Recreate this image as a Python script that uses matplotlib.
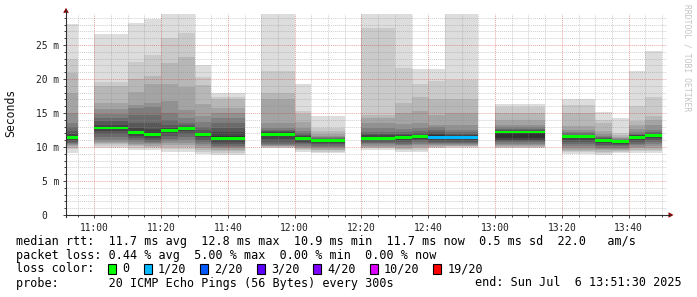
import matplotlib
matplotlib.use("Agg")
import matplotlib.pyplot as plt
from matplotlib.lines import Line2D
from matplotlib.patches import Polygon, Rectangle

# ---------------- data ----------------
step_end = ["10:55", "11:00", "11:05", "11:10", "11:15", "11:20", "11:25", "11:30",
            "11:35", "11:40", "11:45", "11:50", "11:55", "12:00", "12:05", "12:10",
            "12:15", "12:20", "12:25", "12:30", "12:35", "12:40", "12:45", "12:50",
            "12:55", "13:00", "13:05", "13:10", "13:15", "13:20", "13:25", "13:30",
            "13:35", "13:40", "13:45", "13:50"]

# 20 sorted ping RTTs (ms) per 5-minute step, None = no data
pings = [
    [9.1, 9.7, 9.9, 10.1, 10.3, 10.5, 10.6, 10.8, 11.0, 11.2, 11.6, 11.9, 12.3, 12.9, 13.5, 15.0, 18.0, 20.9, 22.9, 28.1],
    None,
    [9.9, 10.2, 10.4, 10.6, 10.8, 11.1, 11.5, 11.9, 12.3, 12.7, 13.0, 13.3, 13.8, 14.3, 14.8, 15.6, 16.5, 19.0, 19.5, 26.6],
    [9.9, 10.2, 10.4, 10.6, 10.8, 11.1, 11.5, 11.9, 12.3, 12.7, 13.0, 13.3, 13.8, 14.3, 14.8, 15.6, 16.5, 19.0, 19.5, 26.6],
    [9.6, 9.9, 10.1, 10.3, 10.5, 10.7, 11.0, 11.3, 11.6, 11.9, 12.3, 12.8, 13.6, 14.7, 15.8, 16.2, 18.1, 20.0, 22.5, 28.2],
    [9.5, 9.8, 10.0, 10.2, 10.4, 10.6, 10.8, 11.0, 11.3, 11.6, 12.0, 12.6, 13.5, 14.7, 15.9, 16.4, 19.3, 20.4, 23.6, 28.8],
    [9.3, 9.7, 10.0, 10.3, 10.6, 10.9, 11.2, 11.6, 12.0, 12.3, 12.5, 12.8, 13.3, 14.0, 15.0, 16.7, 19.3, 22.4, 26.0, 30.5],
    [9.3, 9.7, 10.0, 10.3, 10.6, 11.0, 11.4, 11.9, 12.3, 12.6, 12.8, 12.9, 13.2, 13.6, 14.2, 15.4, 18.8, 23.3, 26.8, 30.5],
    [9.0, 9.3, 9.6, 9.9, 10.1, 10.4, 10.7, 11.0, 11.4, 11.7, 11.9, 12.1, 12.5, 13.0, 13.7, 14.6, 16.3, 19.1, 20.3, 22.1],
    [8.8, 9.1, 9.4, 9.6, 9.8, 10.0, 10.2, 10.4, 10.7, 11.0, 11.6, 12.2, 12.8, 13.5, 14.2, 15.0, 15.8, 17.1, 17.4, 18.0],
    [8.8, 9.1, 9.4, 9.6, 9.8, 10.0, 10.2, 10.4, 10.7, 11.0, 11.6, 12.2, 12.8, 13.5, 14.2, 15.0, 15.8, 17.1, 17.4, 18.0],
    None,
    [9.8, 9.9, 10.0, 10.1, 10.2, 10.3, 10.5, 10.8, 11.2, 11.7, 12.1, 12.2, 12.3, 12.5, 12.8, 13.5, 17.1, 18.0, 21.2, 30.5],
    [9.8, 9.9, 10.0, 10.1, 10.2, 10.3, 10.5, 10.8, 11.2, 11.7, 12.1, 12.2, 12.3, 12.5, 12.8, 13.5, 17.1, 18.0, 21.2, 30.5],
    [9.3, 9.5, 9.7, 9.9, 10.0, 10.2, 10.4, 10.6, 10.8, 11.0, 11.4, 11.6, 11.8, 12.0, 12.3, 12.8, 13.7, 14.8, 15.3, 19.3],
    [9.1, 9.3, 9.5, 9.6, 9.8, 10.0, 10.2, 10.4, 10.6, 10.8, 11.0, 11.1, 11.2, 11.3, 11.4, 11.6, 11.9, 12.3, 12.8, 14.6],
    [9.1, 9.3, 9.5, 9.6, 9.8, 10.0, 10.2, 10.4, 10.6, 10.8, 11.0, 11.1, 11.2, 11.3, 11.4, 11.6, 11.9, 12.3, 12.8, 14.6],
    None,
    [9.6, 9.8, 9.9, 10.0, 10.2, 10.4, 10.6, 10.8, 11.0, 11.2, 11.5, 11.7, 11.9, 12.2, 12.8, 13.6, 14.2, 14.7, 27.5, 30.5],
    [9.6, 9.8, 9.9, 10.0, 10.2, 10.4, 10.6, 10.8, 11.0, 11.2, 11.5, 11.7, 11.9, 12.2, 12.8, 13.6, 14.2, 14.7, 27.5, 30.5],
    [9.3, 9.5, 9.7, 9.9, 10.1, 10.3, 10.5, 10.8, 11.1, 11.4, 11.6, 11.7, 11.9, 12.2, 12.6, 13.4, 15.0, 16.4, 21.6, 30.5],
    [9.3, 9.6, 9.8, 10.0, 10.3, 10.5, 10.7, 11.0, 11.2, 11.4, 11.6, 11.8, 12.0, 12.3, 12.8, 13.6, 15.3, 17.4, 19.3, 21.5],
    [9.8, 9.9, 10.0, 10.1, 10.3, 10.4, 10.6, 10.8, 11.0, 11.2, 11.7, 11.9, 12.2, 12.5, 12.9, 13.3, 14.7, 17.1, 19.7, 21.5],
    [9.9, 10.0, 10.1, 10.2, 10.3, 10.5, 10.6, 10.8, 11.0, 11.2, 11.6, 11.7, 11.9, 12.2, 12.5, 13.3, 15.0, 17.1, 19.9, 30.5],
    [9.9, 10.0, 10.1, 10.2, 10.3, 10.5, 10.6, 10.8, 11.0, 11.2, 11.6, 11.7, 11.9, 12.2, 12.5, 13.3, 15.0, 17.1, 19.9, 30.5],
    None,
    [9.8, 9.9, 10.0, 10.2, 10.3, 10.5, 10.7, 10.9, 11.1, 11.3, 12.3, 12.4, 12.5, 12.7, 12.9, 13.2, 14.0, 15.0, 15.9, 16.3],
    [9.8, 9.9, 10.0, 10.2, 10.3, 10.5, 10.7, 10.9, 11.1, 11.3, 12.3, 12.4, 12.5, 12.7, 12.9, 13.2, 14.0, 15.0, 15.9, 16.3],
    [9.8, 9.9, 10.0, 10.2, 10.3, 10.5, 10.7, 10.9, 11.1, 11.3, 12.3, 12.4, 12.5, 12.7, 12.9, 13.2, 14.0, 15.0, 15.9, 16.3],
    None,
    [8.9, 9.2, 9.4, 9.6, 9.9, 10.2, 10.5, 10.8, 11.1, 11.3, 11.6, 11.7, 11.8, 12.0, 12.2, 12.5, 13.1, 15.0, 16.2, 17.1],
    [8.9, 9.2, 9.4, 9.6, 9.9, 10.2, 10.5, 10.8, 11.1, 11.3, 11.6, 11.7, 11.8, 12.0, 12.2, 12.5, 13.1, 15.0, 16.2, 17.1],
    [8.8, 9.1, 9.3, 9.5, 9.7, 9.9, 10.1, 10.3, 10.6, 10.9, 11.1, 11.2, 11.3, 11.4, 11.6, 11.9, 12.3, 13.5, 14.0, 15.1],
    [9.1, 9.2, 9.4, 9.5, 9.7, 9.9, 10.1, 10.3, 10.5, 10.7, 10.9, 10.95, 11.0, 11.1, 11.2, 11.3, 11.4, 11.7, 12.0, 14.2],
    [9.1, 9.4, 9.6, 9.8, 10.0, 10.3, 10.5, 10.8, 11.0, 11.2, 11.6, 11.7, 11.8, 11.9, 12.2, 12.6, 13.3, 13.8, 16.0, 21.2],
    [9.1, 9.4, 9.6, 9.9, 10.1, 10.4, 10.7, 11.0, 11.3, 11.6, 11.8, 11.9, 12.0, 12.2, 12.5, 13.3, 14.0, 14.5, 17.3, 24.1],
]

# median RTT (ms) per step and lost pings (of 20) per step
median = [11.4, None, 12.8, 12.8, 12.1, 11.8, 12.4, 12.7, 11.8, 11.3, 11.3, None,
          11.9, 11.9, 11.2, 10.9, 10.9, None, 11.3, 11.3, 11.45, 11.5, 11.4, 11.4,
          11.4, None, 12.2, 12.2, 12.2, None, 11.5, 11.5, 11.0, 10.8, 11.4, 11.7]
loss = [0, None, 0, 0, 0, 0, 0, 0, 0, 0, 0, None,
        0, 0, 0, 0, 0, None, 0, 0, 0, 0, 1, 1,
        1, None, 0, 0, 0, None, 0, 0, 0, 0, 0, 0]

loss_labels = ["0", "1/20", "2/20", "3/20", "4/20", "10/20", "19/20"]
loss_colors = ["#00ff00", "#00b8ff", "#0059ff", "#5e00ff", "#7e00ff", "#dd00ff", "#ff0000"]
loss_thresh = [0, 1, 2, 3, 4, 10, 19]

x_ticks = ["11:00", "11:20", "11:40", "12:00", "12:20", "12:40", "13:00", "13:20", "13:40"]
y_ticks = [0, 5, 10, 15, 20, 25]
y_tick_labels = ["0  ", "5 m", "10 m", "15 m", "20 m", "25 m"]

stats_rtt = "median rtt:  11.7 ms avg  12.8 ms max  10.9 ms min  11.7 ms now  0.5 ms sd  22.0   am/s"
stats_loss = "packet loss: 0.44 % avg  5.00 % max  0.00 % min  0.00 % now"
probe_txt = "probe:       20 ICMP Echo Pings (56 Bytes) every 300s"
end_txt = "end: Sun Jul  6 13:51:30 2025"

# ---------------- drawing ----------------
W, H = 697, 297
MONO = "DejaVu Sans Mono"
fig = plt.figure(figsize=(W / 100, H / 100), dpi=100)
fig.patch.set_facecolor("white")

X0, X1, YT, YB = 66, 667, 13.7, 215
ax = fig.add_axes([X0 / W, 1 - YB / H, (X1 - X0) / W, (YB - YT) / H])
ax.set_facecolor("white")


def tmin(s):
    h, m = s.split(":")
    return int(h) * 60 + int(m)


half = 10
for se, p, med, ls in zip(step_end, pings, median, loss):
    if p is None:
        continue
    start = tmin(se) - 5
    for k in range(half):
        ibot = k + 1
        g = int(190 / half * (half - ibot)) + 50
        col = "#%02x%02x%02x" % (g, g, g)
        ax.bar(start, p[19 - k] - p[k], bottom=p[k], width=5, align="edge",
               color=col, linewidth=0, zorder=1)
    ci = max(i for i, t in enumerate(loss_thresh) if ls >= t)
    ax.bar(start, 0.42, bottom=med - 0.21, width=5, align="edge",
           color=loss_colors[ci], linewidth=0, zorder=4)

ax.set_xlim(651.5, 831.5)
ax.set_ylim(0, 29.6)

ax.set_xticks([tmin(t) for t in x_ticks])
ax.set_xticklabels(x_ticks)
ax.set_xticks(list(range(655, 831, 5)), minor=True)
ax.set_yticks(y_ticks)
ax.set_yticklabels(y_tick_labels)
ax.set_yticks(list(range(0, 30)), minor=True)

for lab in ax.get_xticklabels() + ax.get_yticklabels():
    lab.set_family(MONO)
    lab.set_fontsize(6.9)
    lab.set_color("#202020")

ax.tick_params(axis="both", which="both", direction="out", color="#404040", width=0.7)
ax.tick_params(axis="both", which="major", length=2.5)
ax.tick_params(axis="both", which="minor", length=1.5)
ax.tick_params(axis="x", which="major", pad=3)
ax.tick_params(axis="y", which="major", pad=2.5)

ax.set_axisbelow(False)
ax.grid(True, which="minor", color="#8c8c8c", alpha=0.42, linestyle=(0, (1, 1)), linewidth=0.7, zorder=3)
ax.grid(True, which="major", color="#d02a2a", alpha=0.42, linestyle=(0, (1, 1)), linewidth=0.7, zorder=3)

for sp in ax.spines.values():
    sp.set_visible(False)

# axis lines with arrows
axis_col = "#303030"
fig.add_artist(Line2D([X0 / W, 670 / W], [1 - YB / H, 1 - YB / H], color=axis_col, lw=0.8))
fig.add_artist(Line2D([X0 / W, X0 / W], [1 - (YB + 1.5) / H, 1 - 10 / H], color=axis_col, lw=0.8))
arrow_col = "#8b0000"
fig.add_artist(Polygon([(668.5 / W, 1 - 212.2 / H), (673.5 / W, 1 - 215 / H), (668.5 / W, 1 - 217.8 / H)],
                       closed=True, transform=fig.transFigure, color=arrow_col, lw=0))
fig.add_artist(Polygon([(63.2 / W, 1 - 12.8 / H), (66 / W, 1 - 7.8 / H), (68.8 / W, 1 - 12.8 / H)],
                       closed=True, transform=fig.transFigure, color=arrow_col, lw=0))

# y label and watermark
fig.text(11 / W, 1 - 113 / H, "Seconds", rotation=90, ha="center", va="center",
         family=MONO, fontsize=8.3, color="#101010")
fig.text(687 / W, 1 - 4 / H, "RRDTOOL / TOBI OETIKER", rotation=270, ha="center", va="top",
         family=MONO, fontsize=5.8, color="#c4c4c4")

# legend block
FS = 8.45
CW = 0.602 * FS * 100 / 72  # char width in px
LX = 16.5
rows_y = [241, 255, 269, 283]
fig.text(LX / W, 1 - rows_y[0] / H, stats_rtt, family=MONO, fontsize=FS, va="center", ha="left")
fig.text(LX / W, 1 - rows_y[1] / H, stats_loss, family=MONO, fontsize=FS, va="center", ha="left")
fig.text(LX / W, 1 - rows_y[2] / H, "loss color:", family=MONO, fontsize=FS, va="center", ha="left")
pos = 13
for lab, col in zip(loss_labels, loss_colors):
    bx = LX + pos * CW
    fig.add_artist(Rectangle((bx / W, 1 - (rows_y[2] + 5) / H), 8 / W, 10 / H,
                             transform=fig.transFigure, facecolor=col, edgecolor="black", lw=0.8))
    fig.text((LX + (pos + 2) * CW) / W, 1 - rows_y[2] / H, lab, family=MONO, fontsize=FS,
             va="center", ha="left")
    pos += 2 + len(lab) + 2
fig.text(LX / W, 1 - rows_y[3] / H, probe_txt, family=MONO, fontsize=FS, va="center", ha="left")
fig.text(682 / W, 1 - rows_y[3] / H, end_txt, family=MONO, fontsize=FS, va="center", ha="right")

fig.savefig("out.png", dpi=100, facecolor="white")
